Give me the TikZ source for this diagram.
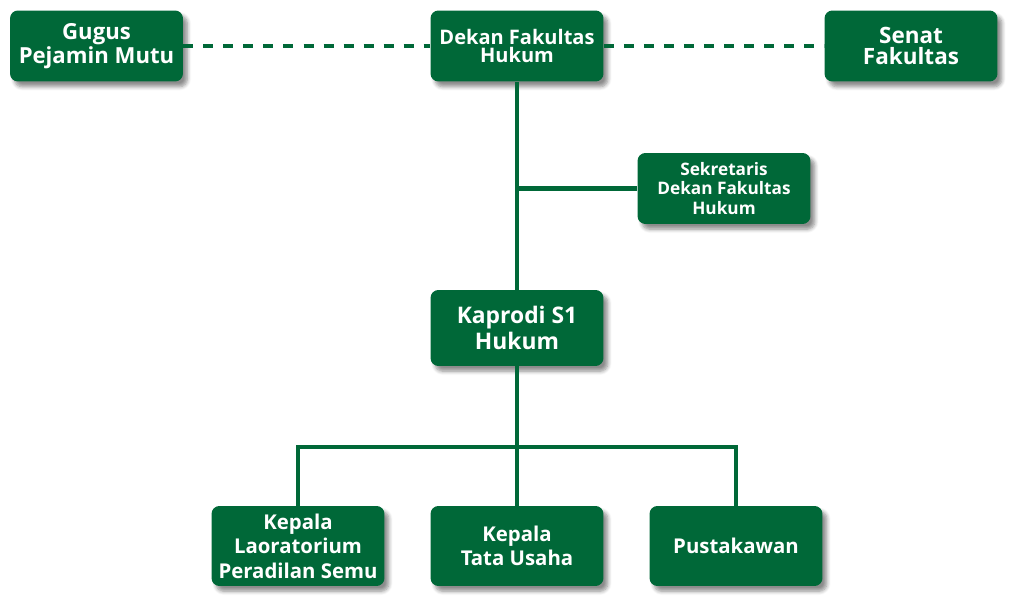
\documentclass[tikz,border=0pt]{standalone}
\usepackage{fontspec}
\setmainfont{Open Sans}
\usetikzlibrary{shadows.blur}
\definecolor{ugreen}{HTML}{006838}
\tikzset{
  unit/.style={draw=none, fill=ugreen, text=white, rounded corners=4.5pt,
    minimum width=3.46cm, minimum height=1.42cm, align=center, inner sep=1pt,
    blur shadow={shadow xshift=2.5pt, shadow yshift=-3pt, shadow blur steps=6, shadow opacity=45},
    font=\bfseries},
  link/.style={draw=ugreen, line width=2.4pt}
}
\begin{document}
\begin{tikzpicture}[x=0.02cm, y=-0.02cm]
\useasboundingbox (0,0) rectangle (1024,614);
\node[unit, font=\bfseries\fontsize{12.6}{11.5}\selectfont] (GPM) at (96.5,46) {Gugus\\Pejamin Mutu};
\node[unit, font=\bfseries\fontsize{11.4}{10.5}\selectfont] (DFH) at (517,46) {Dekan Fakultas\\Hukum};
\node[unit, font=\bfseries\fontsize{12.8}{11.5}\selectfont] (SF) at (911,46) {Senat\\Fakultas};
\node[unit, font=\bfseries\fontsize{9.8}{11.3}\selectfont] (SDF) at (724,188.5) {Sekretaris\\Dekan Fakultas\\Hukum};
\node[unit, minimum height=1.52cm, font=\bfseries\fontsize{13}{14.5}\selectfont] (KS1) at (517,328) {Kaprodi S1\\Hukum};
\node[unit, minimum height=1.6cm, font=\bfseries\fontsize{11.6}{14}\selectfont] (KLP) at (298,546) {Kepala\\Laoratorium\\Peradilan Semu};
\node[unit, minimum height=1.6cm, font=\bfseries\fontsize{11.6}{14}\selectfont] (KTU) at (517,546) {Kepala\\Tata Usaha};
\node[unit, minimum height=1.6cm, font=\bfseries\fontsize{11.6}{14}\selectfont] (PUS) at (736,546) {Pustakawan};
\coordinate (J1) at (517,188.5);
\coordinate (J2) at (517,447);
\draw[link, dash pattern=on 5.7pt off 5.7pt] (GPM) -- (DFH);
\draw[link, dash pattern=on 5.7pt off 5.7pt] (DFH) -- (SF);
\draw[link] (DFH) -- (KS1);
\draw[link] (J1) -- (SDF);
\draw[link] (KS1) -- (KTU);
\draw[link] (J2) -| (KLP);
\draw[link] (J2) -| (PUS);
\end{tikzpicture}
\end{document}
